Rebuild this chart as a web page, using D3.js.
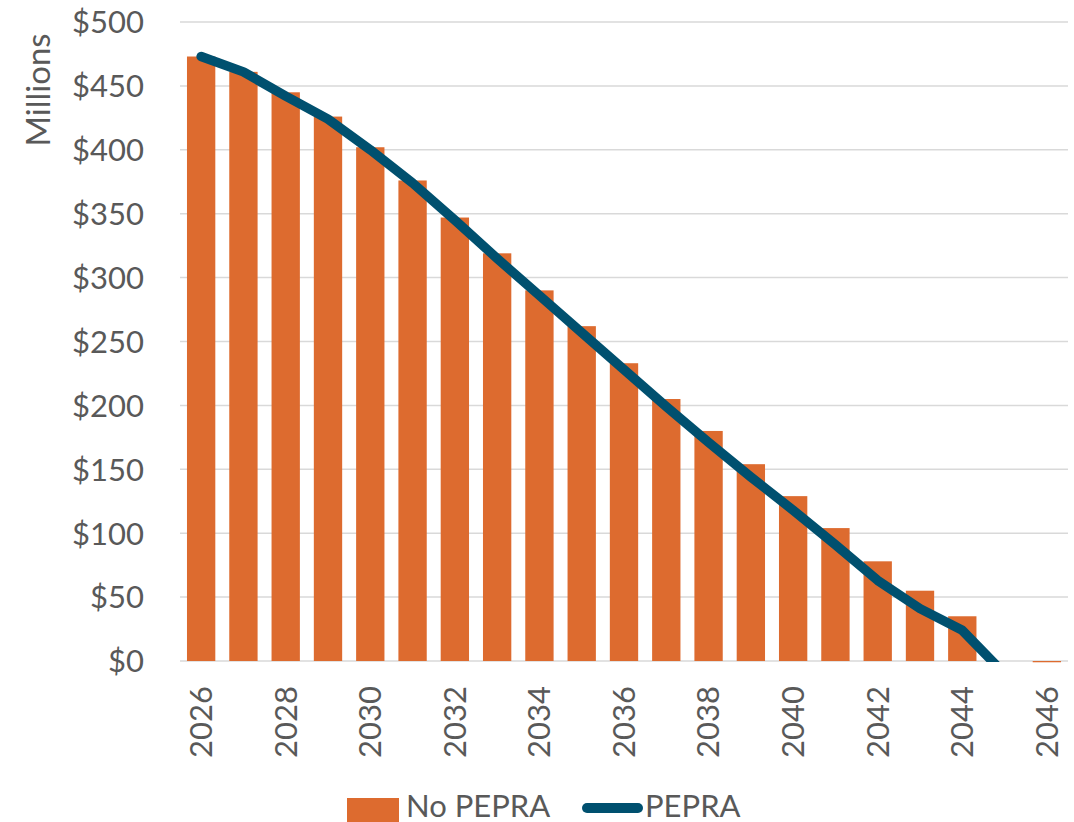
<!DOCTYPE html>
<html>
<head>
<meta charset="utf-8">
<script src="https://cdn.jsdelivr.net/npm/d3@7"></script>
<style>
  html, body { margin: 0; padding: 0; background: #ffffff; }
  svg { display: block; }
  text { font-family: Lato, "Open Sans", sans-serif; fill: #595959; }
</style>
</head>
<body>
<svg id="chart" width="1074" height="822"></svg>
<script>
const years = [2026, 2027, 2028, 2029, 2030, 2031, 2032, 2033, 2034, 2035, 2036,
               2037, 2038, 2039, 2040, 2041, 2042, 2043, 2044, 2045, 2046];
const noPepra = [473, 461, 445, 426, 402, 376, 347, 319, 290, 262, 233,
                 205, 180, 154, 129, 104, 78, 55, 35, 0, -1];
const pepra = [473, 461, 442, 424, 400, 374, 345, 315, 286, 257, 228,
               199, 171, 144, 118, 91, 63, 41, 24, -10, null];
const yTicks = [0, 50, 100, 150, 200, 250, 300, 350, 400, 450, 500];
const xTickLabels = [2026, 2028, 2030, 2032, 2034, 2036, 2038, 2040, 2042, 2044, 2046];
const seriesNames = ["No PEPRA", "PEPRA"];
const colors = { bar: "#DD6B2F", line: "#00506F", grid: "#D9D9D9" };

const svg = d3.select("#chart");
const plot = { left: 180, right: 1068, top: 22, bottom: 661 };

const x = d3.scaleBand().domain(years).range([plot.left, plot.right])
  .paddingInner(0.33).paddingOuter(0.165);
const y = d3.scaleLinear().domain([0, 500]).range([plot.bottom, plot.top]);

// gridlines
svg.append("g").selectAll("line").data(yTicks).join("line")
  .attr("x1", plot.left).attr("x2", plot.right)
  .attr("y1", d => y(d)).attr("y2", d => y(d))
  .attr("stroke", colors.grid).attr("stroke-width", 1.5);

// y tick labels
const yAxis = d3.axisLeft(y).tickValues(yTicks).tickSize(0).tickPadding(0)
  .tickFormat(d => "$" + d);
const gy = svg.append("g").attr("transform", `translate(${plot.left - 36},0)`).call(yAxis);
gy.select(".domain").remove();
gy.selectAll("text").style("font-size", "31px").attr("fill", "#595959")
  .style("font-family", "Lato, sans-serif").attr("dy", "0.35em");

// y title
svg.append("text").attr("transform", "translate(50,90) rotate(-90)")
  .attr("text-anchor", "middle").style("font-size", "33px").text("Millions");

// bars
svg.append("g").selectAll("rect").data(years).join("rect")
  .attr("x", d => x(d))
  .attr("width", x.bandwidth())
  .attr("y", (d, i) => Math.min(y(noPepra[i]), y(0)))
  .attr("height", (d, i) => Math.max(1, Math.abs(y(noPepra[i]) - y(0))))
  .attr("fill", colors.bar)
  .attr("display", (d, i) => noPepra[i] === 0 ? "none" : null);

// clip for line
svg.append("clipPath").attr("id", "clip").append("rect")
  .attr("x", 0).attr("y", 0).attr("width", 1074).attr("height", plot.bottom + 1);

const line = d3.line()
  .defined(d => d.v !== null)
  .x(d => x(d.year) + x.bandwidth() / 2)
  .y(d => y(d.v));
svg.append("path")
  .datum(years.map((yr, i) => ({ year: yr, v: pepra[i] })))
  .attr("d", line)
  .attr("fill", "none").attr("stroke", colors.line).attr("stroke-width", 9.5)
  .attr("stroke-linecap", "round").attr("stroke-linejoin", "round")
  .attr("clip-path", "url(#clip)");

// x labels
const xAxis = d3.axisBottom(x).tickValues(xTickLabels).tickSize(0).tickPadding(0);
const gx = svg.append("g").attr("transform", `translate(0,${plot.bottom})`).call(xAxis);
gx.select(".domain").remove();
gx.selectAll("text")
  .style("font-size", "31px").style("font-family", "Lato, sans-serif").attr("fill", "#595959")
  .attr("text-anchor", "end")
  .attr("transform", "rotate(-90)")
  .attr("x", -25).attr("y", 0).attr("dy", "0.35em");

// legend
const lg = svg.append("g");
lg.append("rect").attr("x", 347).attr("y", 798).attr("width", 52).attr("height", 30).attr("fill", colors.bar);
lg.append("text").attr("x", 406).attr("y", 817).style("font-size", "31px").text(seriesNames[0]);
lg.append("line").attr("x1", 587).attr("x2", 638).attr("y1", 808).attr("y2", 808)
  .attr("stroke", colors.line).attr("stroke-width", 10).attr("stroke-linecap", "round");
lg.append("text").attr("x", 645).attr("y", 817).style("font-size", "31px").text(seriesNames[1]);
</script>
</body>
</html>
